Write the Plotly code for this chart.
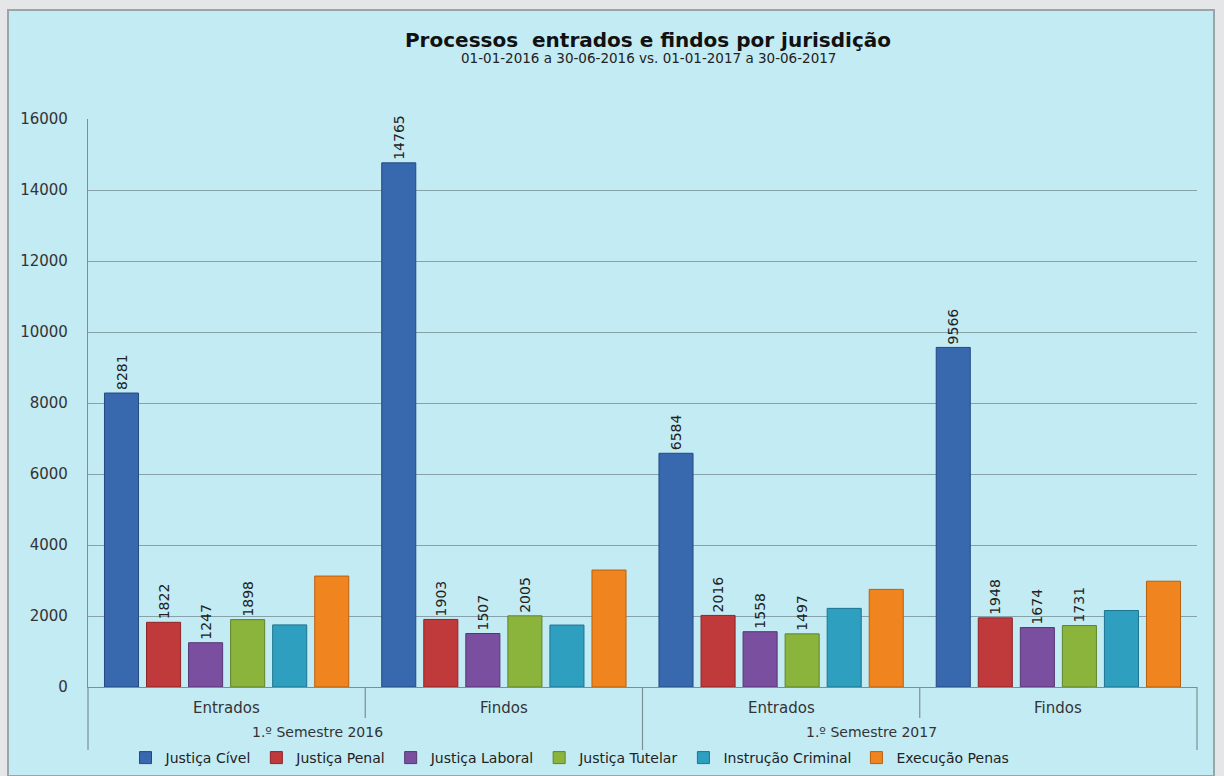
import plotly.graph_objects as go

# Grouped categories: semester (outer level) and process type (inner level)
semesters = ["1.º Semestre 2016", "1.º Semestre 2016", "1.º Semestre 2017", "1.º Semestre 2017"]
tipos = ["Entrados", "Findos", "Entrados", "Findos"]

series_names = ["Justiça Cível", "Justiça Penal", "Justiça Laboral",
                "Justiça Tutelar", "Instrução Criminal", "Execução Penas"]
civel = [8281, 14765, 6584, 9566]
penal = [1822, 1903, 2016, 1948]
laboral = [1247, 1507, 1558, 1674]
tutelar = [1898, 2005, 1497, 1731]
instrucao = [1750, 1745, 2215, 2155]
execucao = [3125, 3295, 2750, 2980]
series_values = [civel, penal, laboral, tutelar, instrucao, execucao]
labelled = [True, True, True, True, False, False]

colors = ["#3868ad", "#c0393b", "#7b4f9f", "#8ab43c", "#2f9fc0", "#f0841f"]
outlines = ["#234a80", "#8e2527", "#553572", "#62832a", "#1f7390", "#b86012"]

y_ticks = [0, 2000, 4000, 6000, 8000, 10000, 12000, 14000, 16000]

BG = "#c3ebf4"
GRID = "#86a1a7"
AXIS = "#7d8f94"

fig = go.Figure()
for name, vals, col, oc, lab in zip(series_names, series_values, colors, outlines, labelled):
    fig.add_trace(go.Bar(
        name=name,
        x=[semesters, tipos],
        y=vals,
        marker=dict(color=col, line=dict(color=oc, width=1)),
        text=[str(v) for v in vals] if lab else None,
        textposition="outside" if lab else "none",
        textangle=-90,
        constraintext="none",
        textfont=dict(family="DejaVu Sans", size=14, color="#222222"),
        cliponaxis=False,
    ))

n_cat = len(tipos)
shapes = [
    # chart frame
    dict(type="rect", xref="paper", yref="paper",
         x0=(8 - 88) / 1109, x1=(1214 - 88) / 1109,
         y0=(687 - 776) / 568, y1=(687 - 10) / 568,
         fillcolor=BG, line=dict(color="#9aa5a8", width=2), layer="below"),
]
# category dividers below the axis: longer between semesters
for k in range(n_cat + 1):
    outer = k == 0 or k == n_cat or semesters[k - 1] != semesters[min(k, n_cat - 1)]
    shapes.append(dict(
        type="line", xref="x domain", yref="paper",
        x0=k / n_cat, x1=k / n_cat, y0=0,
        y1=(687 - 750) / 568 if outer else (687 - 718) / 568,
        line=dict(color=AXIS, width=1.2)))

annotations = [dict(
    text="01-01-2016 a 30-06-2016 vs. 01-01-2017 a 30-06-2017",
    xref="paper", yref="paper", x=(648 - 88) / 1109, y=(687 - 58) / 568,
    xanchor="center", yanchor="middle", showarrow=False,
    font=dict(family="DejaVu Sans", size=13.5, color="#222222"),
)]
# inner category labels
for i, t in enumerate(tipos):
    annotations.append(dict(
        text=t, xref="x domain", yref="paper",
        x=(i + 0.5) / n_cat, y=(687 - 708) / 568,
        xanchor="center", yanchor="middle", showarrow=False,
        font=dict(family="DejaVu Sans", size=15, color="#333333")))
# outer (semester) labels, one per run of equal values
start = 0
for k in range(1, n_cat + 1):
    if k == n_cat or semesters[k] != semesters[start]:
        annotations.append(dict(
            text=semesters[start], xref="x domain", yref="paper",
            x=(start + k) / 2 / n_cat, y=(687 - 732) / 568, xshift=-48,
            xanchor="center", yanchor="middle", showarrow=False,
            font=dict(family="DejaVu Sans", size=14, color="#333333")))
        start = k

fig.update_layout(
    width=1224, height=776,
    margin=dict(l=88, r=27, t=119, b=89, autoexpand=False),
    paper_bgcolor="#e4e6e7",
    plot_bgcolor="rgba(0,0,0,0)",
    barmode="group",
    bargap=0.09,
    bargroupgap=0.19,
    font=dict(family="DejaVu Sans", color="#333333"),
    title=dict(
        text="<b>Processos  entrados e findos por jurisdição</b>",
        x=(648 - 88) / 1109, xref="paper", xanchor="center",
        y=1 - 40 / 776, yanchor="middle",
        font=dict(family="DejaVu Sans", size=20, color="#111111"),
    ),
    annotations=annotations,
    showlegend=True,
    legend=dict(
        orientation="h", x=(570 - 88) / 1109, xanchor="center",
        y=(687 - 758) / 568, yanchor="middle",
        font=dict(family="DejaVu Sans", size=14, color="#222222"),
        bgcolor="rgba(0,0,0,0)", itemwidth=30, traceorder="normal",
    ),
    xaxis=dict(
        type="multicategory",
        automargin=False,
        showdividers=False,
        showticklabels=False,
        showline=True, linecolor=AXIS, linewidth=1.2,
        ticks="",
    ),
    yaxis=dict(
        range=[0, 16000], tickvals=y_ticks,
        ticktext=[str(t) for t in y_ticks],
        automargin=False,
        showgrid=True, gridcolor=GRID, gridwidth=1.2,
        showline=True, linecolor=AXIS, linewidth=1.2,
        zeroline=False,
        tickfont=dict(family="DejaVu Sans", size=15, color="#333333"),
        ticklabelstandoff=16,
    ),
    shapes=shapes,
)

fig.write_html("out.html")
